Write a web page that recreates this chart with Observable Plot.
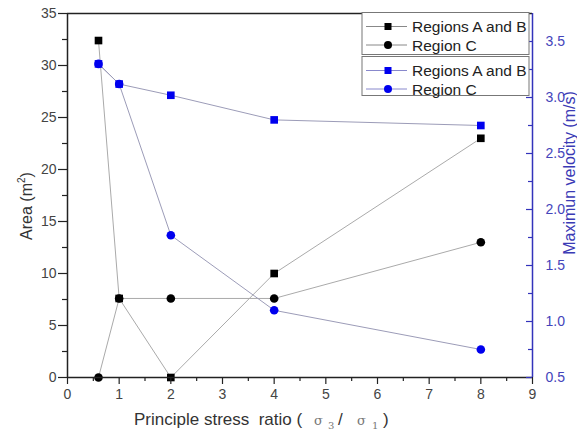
<!DOCTYPE html>
<html><head><meta charset="utf-8">
<script src="https://cdn.jsdelivr.net/npm/d3@7"></script>
<script src="https://cdn.jsdelivr.net/npm/@observablehq/plot@0.6"></script>
<style>body{margin:0;background:#fff} svg{display:block}</style>
</head><body><div id="chart"></div>
<script>
// ---- data ----
const ratios = [0.6, 1, 2, 4, 8];
const areaAB = [32.4, 7.6, 0, 10, 23];
const areaC = [0, 7.6, 7.6, 7.6, 13];
const velAB = [3.3, 3.12, 3.02, 2.8, 2.75];
const velC = [3.3, 3.12, 1.77, 1.1, 0.75];
const seriesNames = ["Regions A and B", "Region C"];
const xTicks = [0, 1, 2, 3, 4, 5, 6, 7, 8, 9];
const xMinor = [0.5, 1.5, 2.5, 3.5, 4.5, 5.5, 6.5, 7.5, 8.5];
const areaTicks = [0, 5, 10, 15, 20, 25, 30, 35];
const areaMinor = [2.5, 7.5, 12.5, 17.5, 22.5, 27.5, 32.5];
const velTicks = [0.5, 1.0, 1.5, 2.0, 2.5, 3.0, 3.5];
const velMinor = [0.75, 1.25, 1.75, 2.25, 2.75, 3.25];
const velDomain = [0.5, 3.75];
const areaDomain = [0, 35];

const blue = "#0000ee";
const axisBlue = "#3333bb";
const toArea = v => (v - velDomain[0]) / (velDomain[1] - velDomain[0]) * (areaDomain[1] - areaDomain[0]) + areaDomain[0];
const toVel = a => (a - areaDomain[0]) / (areaDomain[1] - areaDomain[0]) * (velDomain[1] - velDomain[0]) + velDomain[0];

const rows = ratios.map((r, i) => ({r, aAB: areaAB[i], aC: areaC[i], vAB: velAB[i], vC: velC[i]}));

const svg = Plot.plot({
  width: 577, height: 432,
  marginLeft: 67, marginRight: 45, marginTop: 13, marginBottom: 55,
  style: {fontFamily: "Liberation Sans, Arial, sans-serif", fontSize: "14px", color: "#333", background: "#fff"},
  x: {domain: [0, 9], axis: null},
  y: {domain: areaDomain, axis: null},
  marks: [
    Plot.line(rows, {x: "r", y: "aAB", stroke: "#aaaaaa", strokeWidth: 1}),
    Plot.line(rows, {x: "r", y: "aC", stroke: "#aaaaaa", strokeWidth: 1}),
    Plot.line(rows, {x: "r", y: d => toArea(d.vAB), stroke: "#9c9cb8", strokeWidth: 1}),
    Plot.line(rows, {x: "r", y: d => toArea(d.vC), stroke: "#9c9cb8", strokeWidth: 1}),
    Plot.dot(rows, {x: "r", y: "aC", symbol: "circle", r: 4.3, fill: "#000"}),
    Plot.dot(rows, {x: "r", y: "aAB", symbol: "square", r: 4.3, fill: "#000"}),
    Plot.dot(rows, {x: "r", y: d => toArea(d.vC), symbol: "circle", r: 4.3, fill: blue}),
    Plot.dot(rows, {x: "r", y: d => toArea(d.vAB), symbol: "square", r: 4.3, fill: blue}),
    Plot.ruleY([35], {stroke: "#222", strokeWidth: 1.5}),
    Plot.ruleY([0], {stroke: "#222", strokeWidth: 1.5}),
    Plot.ruleX([0], {stroke: "#222", strokeWidth: 1.5}),
    Plot.ruleX([9], {stroke: axisBlue, strokeWidth: 1.5}),
    Plot.ruleY(areaTicks, {x1: 0, x2: 0, insetLeft: -9, stroke: "#222", strokeWidth: 1.2}),
    Plot.ruleY(areaMinor, {x1: 0, x2: 0, insetLeft: -5, stroke: "#222", strokeWidth: 1.2}),
    Plot.axisY({ticks: areaTicks, tickSize: 0, tickPadding: 11, label: null, fill: "#444"}),
    Plot.ruleX(xTicks, {y1: 0, y2: 0, insetBottom: -7, stroke: "#222", strokeWidth: 1.2}),
    Plot.ruleX(xMinor, {y1: 0, y2: 0, insetBottom: -4, stroke: "#222", strokeWidth: 1.2}),
    Plot.axisX({ticks: xTicks, tickSize: 0, tickPadding: 12, label: null, fill: "#444"}),
    Plot.ruleY(velTicks.map(toArea), {x1: 9, x2: 9, insetLeft: -6, stroke: axisBlue, strokeWidth: 1.2}),
    Plot.ruleY(velMinor.map(toArea), {x1: 9, x2: 9, insetLeft: -4, stroke: axisBlue, strokeWidth: 1.2}),
    Plot.axisY({anchor: "right", ticks: velTicks.map(toArea), tickFormat: d => toVel(d).toFixed(1), tickSize: 0, tickPadding: 13, label: null, fill: "#4444bb"})
  ]
});

const s = d3.select(svg);
s.append("text")
  .attr("transform", "translate(32,206) rotate(-90)")
  .attr("text-anchor", "middle")
  .attr("font-size", 16).attr("fill", "#333")
  .call(t => {
    t.append("tspan").text("Area (m");
    t.append("tspan").attr("font-size", 10).attr("dy", -7).text("2");
    t.append("tspan").attr("dy", 7).text(")");
  });

s.append("text")
  .attr("transform", "translate(575,173) rotate(-90)")
  .attr("text-anchor", "middle")
  .attr("font-size", 16).attr("fill", "#3a3ab5")
  .text("Maximun velocity (m/s)");

const serif = "DejaVu Serif, Liberation Serif, serif";
const xt = s.append("text").attr("y", 425).attr("font-size", 17).attr("fill", "#333")
  .attr("text-anchor", "start").style("white-space", "pre");
xt.append("tspan").attr("x", 134).text("Principle stress  ratio (");
xt.append("tspan").attr("x", 314).attr("font-family", serif).attr("font-size", 13).attr("fill", "#777").text("σ");
xt.append("tspan").attr("x", 328).attr("dy", 4).attr("font-family", serif).attr("font-size", 10).attr("fill", "#777").text("3");
xt.append("tspan").attr("x", 338).attr("dy", -4).text("/");
xt.append("tspan").attr("x", 357).attr("font-family", serif).attr("font-size", 13).attr("fill", "#777").text("σ");
xt.append("tspan").attr("x", 372).attr("dy", 4).attr("font-family", serif).attr("font-size", 10).attr("fill", "#777").text("1");
xt.append("tspan").attr("x", 383).attr("dy", -4).text(")");

const legends = [
  {y0: 12.5, h: 42, color: "#000", line: "#888"},
  {y0: 56.5, h: 39, color: blue, line: "#8888cc"}
];
legends.forEach(L => {
  const g = s.append("g");
  g.append("rect").attr("x", 362).attr("y", L.y0).attr("width", 167).attr("height", L.h)
    .attr("fill", "#fff").attr("stroke", "#777").attr("stroke-width", 1);
  seriesNames.forEach((name, i) => {
    const cy = L.y0 + 14 + i * 18.5;
    g.append("line").attr("x1", 366).attr("x2", 407).attr("y1", cy).attr("y2", cy).attr("stroke", L.line);
    if (i === 0) g.append("rect").attr("x", 384.5).attr("y", cy - 3.5).attr("width", 7).attr("height", 7).attr("fill", L.color);
    else g.append("circle").attr("cx", 388).attr("cy", cy).attr("r", 4).attr("fill", L.color);
    g.append("text").attr("x", 412).attr("y", cy + 5.5).attr("text-anchor", "start")
      .attr("font-size", 15.5).attr("fill", "#222").text(name);
  });
});

document.getElementById("chart").appendChild(svg);
</script>
</body></html>
